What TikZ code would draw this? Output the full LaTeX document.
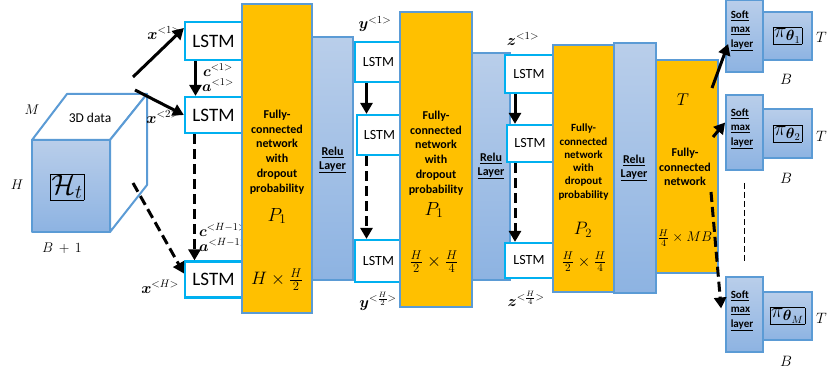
\RequirePackage{fix-cm}
\documentclass[tikz,border=0pt]{standalone}
\usepackage{amsmath,amssymb}
\usepackage{fontspec}
\newfontfamily\carlito{Carlito}
\usepackage{tikz}
\usetikzlibrary{arrows.meta}
\definecolor{lstmblue}{HTML}{00B0F0}
\definecolor{edgeblue}{HTML}{5B9BD5}
\definecolor{fcorange}{HTML}{FFC000}
\definecolor{relutop}{HTML}{B9CEEA}
\definecolor{relubot}{HTML}{8DB3E2}
\tikzset{
  lstmnode/.style={rectangle,draw=lstmblue,line width=2.2pt,fill=white,
    inner sep=0pt,font=\carlito\fontsize{14}{16}\selectfont},
  fcnode/.style={rectangle,draw=edgeblue,line width=1.8pt,fill=fcorange,
    inner sep=0pt},
  relunode/.style={rectangle,draw=edgeblue,line width=1.8pt,
    top color=relutop,bottom color=relubot,inner sep=0pt},
  cubeedge/.style={draw=edgeblue,line width=2pt,line join=round},
  fctext/.style={align=center,inner sep=0pt,
    font=\carlito\bfseries\fontsize{12}{14.7}\selectfont},
  relutext/.style={align=center,inner sep=0pt,
    font=\carlito\bfseries\fontsize{12}{14}\selectfont},
  softtext/.style={align=left,inner sep=0pt,
    font=\carlito\bfseries\fontsize{11}{14.5}\selectfont},
  seqlabel/.style={inner sep=0pt,font=\fontsize{15.5}{17}\selectfont},
  statelabel/.style={inner sep=0pt,font=\fontsize{15}{16}\selectfont},
  bigmath/.style={inner sep=0pt,font=\fontsize{18}{21}\selectfont},
  flowarrow/.style={line width=3pt,-{Triangle[length=11pt,width=12pt]}},
  dasharrow/.style={flowarrow,dash pattern=on 10pt off 5pt},
  dotline/.style={line width=1.8pt,dash pattern=on 6pt off 3pt}
}

\begin{document}
\begin{tikzpicture}[x=1pt,y=-1pt]
  \useasboundingbox (0,0) rectangle (827,374);

  % input cube
  \draw[cubeedge,top color=relutop,bottom color=relubot] (32,140) rectangle (110,232);
  \draw[cubeedge,fill=white] (32,140) -- (67,94) -- (147,94) -- (110,140) -- cycle;
  \draw[cubeedge,fill=white] (110,140) -- (147,94) -- (147,185) -- (110,232) -- cycle;
  \node[font=\carlito\fontsize{13.5}{15}\selectfont,inner sep=0pt] (cubename) at (90,118) {3D data};
  \node[inner sep=0pt,font=\fontsize{28}{32}\selectfont] (hist) at (67,187)
    {\setlength{\fboxrule}{0.6pt}\setlength{\fboxsep}{1pt}\fbox{$\mathcal{H}_t$}};
  \node[inner sep=0pt,font=\fontsize{14}{16}\selectfont] (dimm) at (32,110) {$M$};
  \node[inner sep=0pt,font=\fontsize{14}{16}\selectfont] (dimh) at (17,185) {$H$};
  \node[inner sep=0pt,font=\fontsize{14}{16}\selectfont] (dimb) at (62,248) {$B\,+\,1$};
  \coordinate (xin1) at (133,77);
  \coordinate (xin2) at (135,90);
  \coordinate (xinh) at (133,183);

  % first LSTM column
  \node[lstmnode,minimum width=57pt,minimum height=38pt,
    font=\carlito\fontsize{19}{22}\selectfont] (l1a) at (213.5,41) {LSTM};
  \node[lstmnode,minimum width=57pt,minimum height=36pt,
    font=\carlito\fontsize{19}{22}\selectfont] (l1b) at (213.5,115) {LSTM};
  \node[lstmnode,minimum width=57pt,minimum height=36pt,
    font=\carlito\fontsize{19}{22}\selectfont] (l1c) at (213.5,279.5) {LSTM};
  \node[seqlabel] (x1) at (164,33) {$\boldsymbol{x}^{<1>}$};
  \node[seqlabel] (x2) at (163,117) {$\boldsymbol{x}^{<2>}$};
  \node[seqlabel] (xh) at (160,287) {$\boldsymbol{x}^{<H>}$};
  \node[statelabel] (c1) at (218,70) {$\boldsymbol{c}^{<1>}$};
  \node[statelabel] (a1) at (218,85) {$\boldsymbol{a}^{<1>}$};
  \node[statelabel,anchor=west] (ch) at (199,230) {$\boldsymbol{c}^{<H-1>}$};
  \node[statelabel,anchor=west] (ah) at (199,245) {$\boldsymbol{a}^{<H-1>}$};
  \draw[flowarrow] (xin1) -- ([yshift=13pt]l1a.west);
  \draw[flowarrow] (xin2) -- (l1b.west);
  \draw[dasharrow] (xinh) -- ([yshift=6pt]l1c.west);
  \draw[flowarrow] ([xshift=-18pt]l1a.south) -- ([xshift=-18pt]l1b.north);
  \draw[dasharrow] ([xshift=-19pt]l1b.south) -- ([xshift=-19pt]l1c.north);

  % first dense block
  \node[fcnode,minimum width=70pt,minimum height=309pt] (fc1) at (277,158.5) {};
  \node[relunode,minimum width=41pt,minimum height=243pt] (relu1) at (332.5,158.5) {};
  \node[fctext] (fc1txt) at (277,152) {Fully-\\connected\\network\\with\\dropout\\probability};
  \node[bigmath,font=\fontsize{19}{22}\selectfont] (fc1p) at (277,216) {$P_1$};
  \node[bigmath] (fc1dim) at (277,280) {$H\times\frac{H}{2}$};
  \node[relutext] (relu1txt) at (332.5,160) {\underline{Relu}\\\underline{Layer}};

  % second LSTM column
  \node[lstmnode,minimum width=47pt,minimum height=40pt] (l2a) at (378.5,62) {LSTM};
  \node[lstmnode,minimum width=45pt,minimum height=40pt] (l2b) at (379.5,135) {LSTM};
  \node[lstmnode,minimum width=47pt,minimum height=42pt] (l2c) at (378.5,261) {LSTM};
  \node[seqlabel] (y1) at (375,24) {$\boldsymbol{y}^{<1>}$};
  \node[seqlabel] (yh) at (378,301) {$\boldsymbol{y}^{<\frac{H}{2}>}$};
  \draw[flowarrow] ([xshift=-12pt]l2a.south) -- ([xshift=-13pt]l2b.north);
  \draw[dasharrow] ([xshift=-13pt]l2b.south) -- ([xshift=-12pt]l2c.north);

  % second dense block
  \node[fcnode,minimum width=72pt,minimum height=295pt] (fc2) at (436,159.5) {};
  \node[relunode,minimum width=38pt,minimum height=227pt] (relu2) at (491,166.5) {};
  \node[fctext] (fc2txt) at (436,153) {Fully-\\connected\\network\\with\\dropout\\probability};
  \node[bigmath,font=\fontsize{19}{22}\selectfont] (fc2p) at (434,210) {$P_1$};
  \node[bigmath] (fc2dim) at (434,262) {$\frac{H}{2}\times\frac{H}{4}$};
  \node[relutext] (relu2txt) at (491,166) {\underline{Relu}\\\underline{Layer}};

  % third LSTM column
  \node[lstmnode,minimum width=48pt,minimum height=38pt] (l3a) at (529,74) {LSTM};
  \node[lstmnode,minimum width=46pt,minimum height=37pt] (l3b) at (530,143.5) {LSTM};
  \node[lstmnode,minimum width=48pt,minimum height=35pt] (l3c) at (529,260.5) {LSTM};
  \node[seqlabel] (z1) at (523,39) {$\boldsymbol{z}^{<1>}$};
  \node[seqlabel] (zh) at (526,299) {$\boldsymbol{z}^{<\frac{H}{4}>}$};
  \draw[flowarrow] ([xshift=-14pt]l3a.south) -- ([xshift=-15pt]l3b.north);
  \draw[dasharrow] ([xshift=-15pt]l3b.south) -- ([xshift=-14pt]l3c.north);

  % third dense block
  \node[fcnode,minimum width=61pt,minimum height=247pt] (fc3) at (583.5,168.5) {};
  \node[relunode,minimum width=42pt,minimum height=250pt] (relu3) at (635,168) {};
  \node[fctext,font=\carlito\bfseries\fontsize{11}{13.3}\selectfont] (fc3txt) at (583.5,162)
    {Fully-\\connected\\network\\with\\dropout\\probability};
  \node[bigmath] (fc3p) at (583,230) {$P_2$};
  \node[bigmath,font=\fontsize{16}{19}\selectfont] (fc3dim) at (584,262) {$\frac{H}{2}\times\frac{H}{4}$};
  \node[relutext] (relu3txt) at (634,168) {\underline{Relu}\\\underline{Layer}};

  % output block
  \node[fcnode,minimum width=62pt,minimum height=213pt] (fc4) at (687,166.5) {};
  \node[bigmath,font=\fontsize{17}{20}\selectfont] (fc4t) at (683,100) {$T$};
  \node[fctext] (fc4txt) at (685,167) {Fully-\\connected\\network};
  \node[bigmath,font=\fontsize{14}{17}\selectfont] (fc4dim) at (685,238) {$\frac{H}{4}\times MB$};
  \coordinate (fcout1) at (712,88);
  \coordinate (fcout2) at (713,137);
  \coordinate (fcoutm) at (711,192);

  % softmax heads
  \node[relunode,minimum width=49pt,minimum height=48pt,font=\fontsize{21}{24}\selectfont] (pi1) at (787.5,36)
    {\setlength{\fboxrule}{0.5pt}\setlength{\fboxsep}{1pt}\fbox{$\pi_{\boldsymbol{\theta}_1}$}};
  \node[relunode,minimum width=49pt,minimum height=49pt,font=\fontsize{21}{24}\selectfont] (pi2) at (787.5,133.5)
    {\setlength{\fboxrule}{0.5pt}\setlength{\fboxsep}{1pt}\fbox{$\pi_{\boldsymbol{\theta}_2}$}};
  \node[relunode,minimum width=49pt,minimum height=48pt,font=\fontsize{21}{24}\selectfont] (pim) at (787.5,316)
    {\setlength{\fboxrule}{0.5pt}\setlength{\fboxsep}{1pt}\fbox{$\pi_{\boldsymbol{\theta}_M}$}};
  \node[relunode,minimum width=37pt,minimum height=72pt] (s1) at (744.5,36) {};
  \node[relunode,minimum width=37pt,minimum height=75pt] (s2) at (744.5,132.5) {};
  \node[relunode,minimum width=37pt,minimum height=75pt] (sm) at (744.5,314.5) {};
  \node[softtext] (s1txt) at (742,31) {\underline{Soft}\\\underline{max}\\\underline{layer}};
  \node[softtext] (s2txt) at (742,129) {\underline{Soft}\\\underline{max}\\\underline{layer}};
  \node[softtext] (smtxt) at (742,311) {\underline{Soft}\\\underline{max}\\\underline{layer}};
  \node[inner sep=0pt,font=\fontsize{15}{17}\selectfont] (b1) at (786,79) {$B$};
  \node[inner sep=0pt,font=\fontsize{15}{17}\selectfont] (b2) at (786,178) {$B$};
  \node[inner sep=0pt,font=\fontsize{15}{17}\selectfont] (bm) at (786,361) {$B$};
  \node[inner sep=0pt,font=\fontsize{15}{17}\selectfont,anchor=east] (t1) at (827,37) {$T$};
  \node[inner sep=0pt,font=\fontsize{15}{17}\selectfont,anchor=east] (t2) at (827,136) {$T$};
  \node[inner sep=0pt,font=\fontsize{15}{17}\selectfont,anchor=east] (tm) at (827,318) {$T$};
  \draw[flowarrow] (fcout1) -- ([xshift=3pt,yshift=-8pt]s1.west);
  \draw[flowarrow] (fcout2) -- ([yshift=10pt]s2.west);
  \draw[dasharrow] (fcoutm) -- ([xshift=-4pt,yshift=6pt]sm.west);
  \draw[dotline,shorten <=12pt,shorten >=15pt] (s2.south) -- (sm.north);
\end{tikzpicture}
\end{document}
